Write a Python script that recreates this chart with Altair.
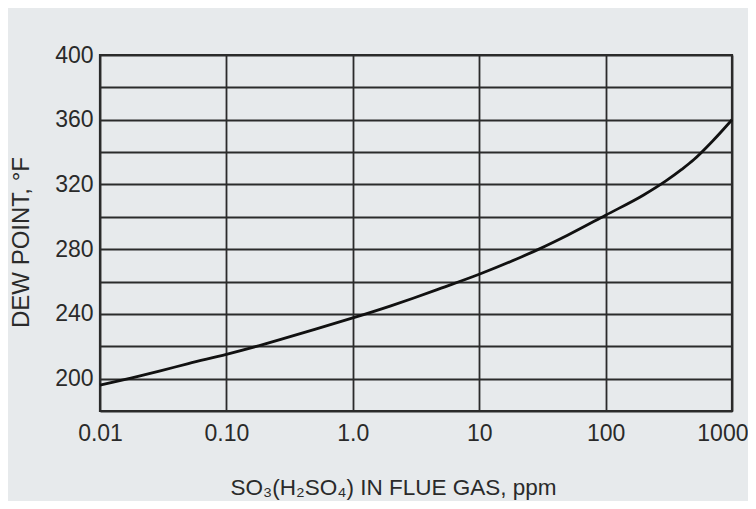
import altair as alt
import pandas as pd

ppm = [0.01, 0.02, 0.03, 0.05, 0.1, 0.2, 0.3, 0.5, 1, 2, 3, 5, 10, 20, 30, 50, 100, 200, 300, 400, 500, 700, 1000]
dew = [196, 201.4, 204.8, 209.3, 215, 221.3, 225.3, 230.4, 237.5, 245, 249.7, 255.9, 264.5, 274.1, 280.2, 288.6, 301, 313.5, 322.2, 329.3, 335.4, 346.7, 360]

x_ticks = [0.01, 0.1, 1, 10, 100, 1000]
x_labels = ["0.01", "0.10", "1.0", "10", "100", "1000"]
y_grid = [180, 200, 220, 240, 260, 280, 300, 320, 340, 360, 380, 400]

df = pd.DataFrame({"ppm": ppm, "dew": dew})

x_expr = "[" + ",".join(f"'{l}'" for l in x_labels) + "][round(log(datum.value)/log(10))+2]"

FONT = "Liberation Sans"
GRID = "#2b2b2b"
TXT = "#2a2a2a"

chart = alt.Chart(df).mark_line(color="#111111", strokeWidth=2.8, interpolate="monotone").encode(
    x=alt.X("ppm:Q",
            scale=alt.Scale(type="log", domain=[0.01, 1000], nice=False),
            axis=alt.Axis(values=x_ticks, labelExpr=x_expr, title="SO₃(H₂SO₄) IN FLUE GAS, ppm",
                          grid=True, gridColor=GRID, gridWidth=1.8, gridOpacity=1,
                          ticks=False, domain=False, labelPadding=11, titlePadding=31,
                          labelFontSize=23, titleFontSize=22.5, labelFlush=False,
                          labelAlign={"condition": {"test": "datum.value >= 1000", "value": "right"}, "value": "center"},
                          labelOffset={"condition": {"test": "datum.value >= 1000", "value": 16}, "value": 0},
                          titleX=293)),
    y=alt.Y("dew:Q",
            scale=alt.Scale(domain=[180, 400], nice=False, zero=False),
            axis=alt.Axis(values=y_grid,
                          labelExpr="(datum.value % 40 == 0 && datum.value >= 200) ? datum.label : ''",
                          title="DEW POINT, °F",
                          grid=True, gridColor=GRID, gridWidth=1.8, gridOpacity=1,
                          ticks=False, domain=False, labelPadding=7, titlePadding=21,
                          labelFontSize=23, titleFontSize=24, titleY=187)),
).properties(
    width=632, height=356,
    autosize=alt.AutoSizeParams(type="none"),
    padding={"left": 92, "top": 47, "right": 16, "bottom": 90},
    background="#e7eaec",
).configure_view(
    stroke=GRID, strokeWidth=2.2
).configure_axis(
    labelFont=FONT, titleFont=FONT, labelColor=TXT, titleColor=TXT,
    titleFontWeight="normal"
)

chart.save("out.html", embed_options={"renderer": "svg", "actions": False})
